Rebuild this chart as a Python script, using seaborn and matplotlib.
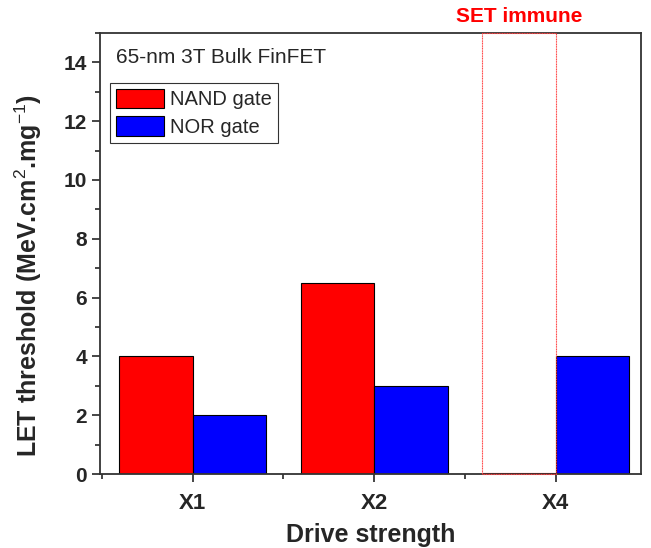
import pandas as pd
import matplotlib
matplotlib.use("Agg")
import matplotlib.pyplot as plt
import seaborn as sns
from matplotlib.patches import Rectangle
from matplotlib.ticker import MultipleLocator, FixedLocator

# ---------- Data ----------
strengths = ["X1", "X2", "X4"]
nand_let = [4.0, 6.5, 0.05]
nor_let = [2.0, 3.0, 4.0]
gates = ["NAND gate", "NOR gate"]
gate_colors = ["#ff0000", "#0000ff"]

sns.set_style("ticks")
plt.rcParams["font.family"] = ["Liberation Sans", "DejaVu Sans"]
plt.rcParams["mathtext.fontset"] = "custom"
plt.rcParams["mathtext.rm"] = "Liberation Sans"
plt.rcParams["mathtext.bf"] = "Liberation Sans:bold"

df = pd.DataFrame({
    "strength": strengths * 2,
    "let": nand_let + nor_let,
    "gate": [gates[0]] * len(strengths) + [gates[1]] * len(strengths),
})

fig = plt.figure(figsize=(6.51, 5.48), dpi=100)
ax = fig.add_axes([0.1536, 0.135, 0.831, 0.805])

sns.barplot(
    data=df, x="strength", y="let", hue="gate",
    palette=gate_colors, width=0.81, edgecolor="black", linewidth=0.8,
    saturation=1, errorbar=None, ax=ax
)

ax.set_ylim(0, 15)
ax.set_xlim(-0.51, 2.47)

# X4 NAND bar: SET immune, shown as a red outline up to the top
nand_x4 = ax.patches[len(strengths) - 1]
nand_x4.set_edgecolor("#ff0000")
nand_x4.set_facecolor("white")
ax.add_patch(Rectangle(
    (nand_x4.get_x(), 0), nand_x4.get_width(), ax.get_ylim()[1],
    fill=False, edgecolor="#ff4040", linewidth=0.8, linestyle=(0, (1, 0.5)),
    zorder=3, clip_on=False
))
ax.text(nand_x4.get_x() + nand_x4.get_width() / 2, 15.25, "SET immune",
        color="#ff0000", fontsize=15, fontweight="bold", ha="center", va="bottom")

# axes styling
for s in ax.spines.values():
    s.set_visible(True)
    s.set_linewidth(1.3)
    s.set_color("#333333")
ax.yaxis.set_major_locator(MultipleLocator(2))
ax.yaxis.set_minor_locator(MultipleLocator(1))
ax.xaxis.set_minor_locator(FixedLocator([-0.5, 0.5, 1.5]))
ax.tick_params(which="both", direction="out", top=False, right=False)
ax.tick_params(which="major", length=6, width=1.2, labelsize=15)
ax.tick_params(axis="x", which="major", pad=8, labelsize=16)
ax.tick_params(which="minor", length=3.5, width=1.2)
for lbl in ax.get_xticklabels() + ax.get_yticklabels():
    lbl.set_fontweight("bold")

ax.set_xlabel("Drive strength", fontsize=18, fontweight="bold", labelpad=6)
ax.set_ylabel(r"LET threshold (MeV.cm$^{2}$.mg$^{-1}$)", fontsize=18,
              fontweight="bold")
ax.yaxis.set_label_coords(-0.104, 0.45)

ax.text(0.03, 0.945, "65-nm 3T Bulk FinFET", transform=ax.transAxes,
        fontsize=15, ha="left", va="center")

handles, labels = ax.get_legend_handles_labels()
leg = ax.legend(handles, labels, loc="upper left", bbox_to_anchor=(0.018, 0.887),
                fontsize=14.5, frameon=True, fancybox=False, edgecolor="black",
                handlelength=2.4, handleheight=1.1, borderpad=0.3,
                labelspacing=0.35, handletextpad=0.3, borderaxespad=0)
leg.get_frame().set_linewidth(0.8)

fig.savefig("out.png", dpi=100)
